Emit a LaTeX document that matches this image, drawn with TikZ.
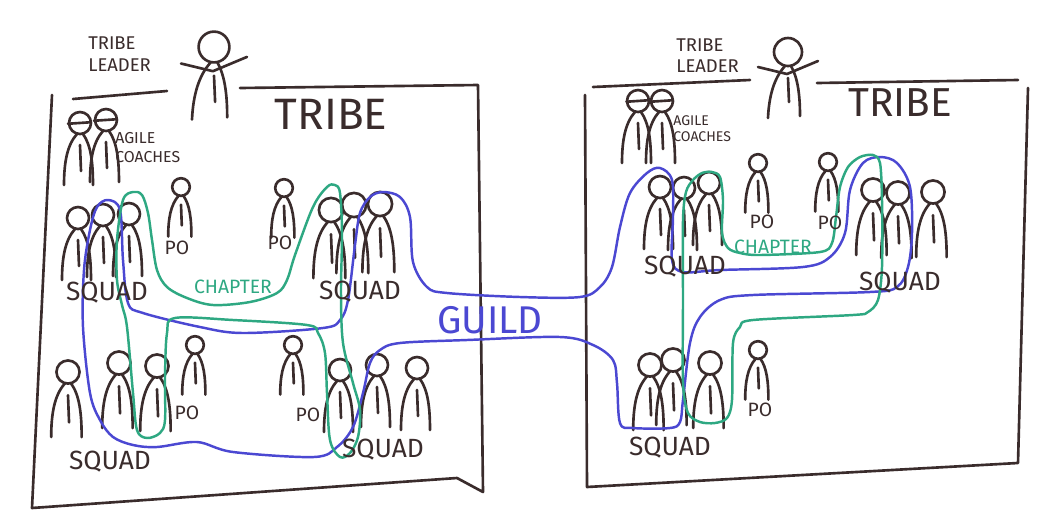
\documentclass[tikz,border=0pt]{standalone}
\usepackage{fontspec}
\setmainfont{Fira Sans}
\definecolor{ink}{HTML}{3A2C2C}
\definecolor{guildblue}{HTML}{4B48D2}
\definecolor{chaptergreen}{HTML}{2EA882}
\tikzset{
  person/.pic={
    \draw (0,0) circle (11);
    \draw (-3,11) .. controls (-13,22) and (-16,40) .. (-16,62);
    \draw (3,11) .. controls (11,22) and (13,40) .. (13,62);
    \draw (0,22) -- (1,48);
  },
  coach/.pic={
    \pic {person};
    \draw (-16,1) -- (14,-1);
  },
  leader/.pic={
    \draw (0,0) circle (14);
    \draw (-3,14) .. controls (-14,26) and (-19,44) .. (-20,66);
    \draw (3,14) .. controls (10,26) and (12,44) .. (12,64);
    \draw (0,26) -- (1,50);
    \draw (-30,15) -- (-1,22) -- (30,9);
  }
}
\begin{document}
\begin{tikzpicture}[x=0.02cm,y=-0.02cm,
    inkline/.style={color=ink,line width=1.5pt,line cap=round,line join=round},
    hand/.style={text=ink,inner sep=0pt},
    guild/.style={draw=guildblue,line width=1.4pt},
    chapter/.style={draw=chaptergreen,line width=1.4pt}]
  \useasboundingbox[fill=white] (0,0) rectangle (1038,525);
  % left tribe
  \draw[inkline] (167,91) -- (73,99);
  \draw[inkline] (240,88) -- (478,85) -- (483,492) -- (457,478) -- (32,508) -- (52,95);
  \pic[inkline,scale=1.1] at (214,47) {leader};
  \foreach \x/\y in {80/123,106/120} \pic[inkline,scale=0.75] at (\x,\y) {coach};
  \foreach \x/\y in {78/218,103/215,129/214} \pic[inkline] at (\x,\y) {person};
  \foreach \x/\y in {331/210,354/205,380/204} \pic[inkline,scale=1.1] at (\x,\y) {person};
  \foreach \x/\y in {68/372,119/363,157/366} \pic[inkline,scale=1.05] at (\x,\y) {person};
  \foreach \x/\y in {340/370,377/365,417/368} \pic[inkline] at (\x,\y) {person};
  \foreach \x/\y in {181/187,284/188,195/345,293/345} \pic[inkline,scale=0.8] at (\x,\y) {person};
  % right tribe
  \draw[inkline] (593,87) -- (750,80);
  \draw[inkline] (817,83) -- (1018,80);
  \draw[inkline] (585,95) -- (587,487) -- (1018,463) -- (1028,88);
  \pic[inkline] at (788,52) {leader};
  \foreach \x/\y in {638/101,662/101} \pic[inkline,scale=0.72] at (\x,\y) {coach};
  \foreach \x/\y in {660/187,684/188,709/183} \pic[inkline] at (\x,\y) {person};
  \foreach \x/\y in {873/190,898/193,933/192} \pic[inkline,scale=1.05] at (\x,\y) {person};
  \foreach \x/\y in {650/365,673/360,710/363} \pic[inkline,scale=1.05] at (\x,\y) {person};
  \foreach \x/\y in {758/163,828/162,758/350} \pic[inkline,scale=0.8] at (\x,\y) {person};
  % guild
  \draw[guild] plot[smooth cycle,tension=0.55] coordinates {
    (97,207) (108,200) (120,210) (123,260) (128,303) (143,313) (200,327) (243,333)
    (323,328) (340,320) (348,300) (355,245) (360,213) (370,197) (383,192) (400,197)
    (410,217) (413,262) (427,287) (447,293) (520,297) (580,297) (600,287) (612,267)
    (620,227) (630,193) (647,173) (660,168) (672,180) (673,217) (672,260) (683,272)
    (720,270) (803,267) (830,257) (845,233) (850,190) (863,163) (880,157) (897,163)
    (910,187) (912,233) (908,267) (897,287) (870,292) (753,295) (720,300) (700,317)
    (690,343) (683,400) (680,422) (670,428) (633,428) (620,423) (617,383) (613,360)
    (593,345) (560,337) (467,340) (400,343) (380,350) (370,363) (363,393) (353,427)
    (337,447) (314,457) (233,452) (197,442) (157,447) (133,445) (113,437) (100,420)
    (90,393) (83,327) (84,270) (90,230)};
  % chapters
  \draw[chapter] plot[smooth cycle,tension=0.55] coordinates {
    (117,240) (123,200) (133,192) (142,195) (148,213) (152,240) (157,270) (167,287)
    (187,298) (213,305) (250,302) (277,293) (287,280) (295,255) (313,207) (327,187)
    (335,185) (340,193) (342,233) (341,293) (343,343) (353,383) (360,410) (358,437)
    (350,453) (340,457) (330,440) (327,393) (325,353) (318,333) (307,325) (233,320)
    (175,318) (167,333) (165,377) (165,420) (160,433) (147,438) (137,430) (133,393)
    (127,327) (122,305) (117,280)};
  \draw[chapter] plot[smooth cycle,tension=0.5] coordinates {
    (683,220) (686,192) (693,180) (702,173) (712,172) (720,177) (723,200) (722,233)
    (728,248) (740,253) (760,255) (820,252) (832,243) (836,217) (840,187) (848,167)
    (860,157) (873,155) (880,163) (882,200) (882,267) (878,300) (868,312) (853,315)
    (753,320) (740,327) (733,343) (732,400) (727,418) (715,423) (700,422) (688,413)
    (683,383) (683,300)};
  % labels
  \node[hand,anchor=west,align=left,font=\fontsize{10.5}{12.5}\selectfont] (leadL) at (88,54) {TRIBE\\LEADER};
  \node[hand,anchor=west,align=left,font=\fontsize{10.5}{12}\selectfont] (leadR) at (676,56) {TRIBE\\LEADER};
  \node[hand,font=\fontsize{25}{25}\selectfont] (tribeL) at (331,114) {TRIBE};
  \node[hand,font=\fontsize{23}{23}\selectfont] (tribeR) at (900,103) {TRIBE};
  \node[hand,anchor=west,align=left,font=\fontsize{9}{10.8}\selectfont] (coachL) at (115,148) {AGILE\\COACHES};
  \node[hand,anchor=west,align=left,font=\fontsize{8}{9}\selectfont] (coachR) at (673,129) {AGILE\\COACHES};
  \foreach \x/\y [count=\i] in {107/293,360/292,110/462,383/450,685/267,900/283,670/448}
    \node[hand,font=\fontsize{15}{15}\selectfont] (squad\i) at (\x,\y) {SQUAD};
  \foreach \x/\y [count=\i] in {177/248,280/243,187/413,308/415,762/222,830/223,760/410}
    \node[hand,font=\fontsize{11}{11}\selectfont] (po\i) at (\x,\y) {PO};
  \node[text=chaptergreen,inner sep=0pt,font=\fontsize{11}{11}\selectfont] (chapL) at (233,287) {CHAPTER};
  \node[text=chaptergreen,inner sep=0pt,font=\fontsize{11}{11}\selectfont] (chapR) at (773,247) {CHAPTER};
  \node[text=guildblue,inner sep=0pt,font=\fontsize{22}{22}\selectfont] (guildlbl) at (490,320) {GUILD};
\end{tikzpicture}
\end{document}
